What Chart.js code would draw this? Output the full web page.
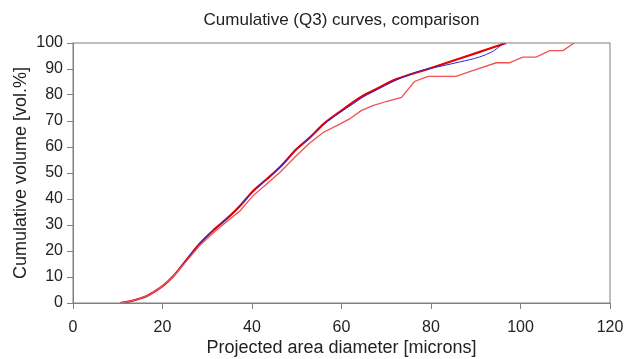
<!DOCTYPE html>
<html>
<head>
<meta charset="utf-8">
<title>Cumulative (Q3) curves, comparison</title>
<script src="https://cdn.jsdelivr.net/npm/chart.js@4.4.1/dist/chart.umd.min.js"></script>
<style>
  html, body { margin: 0; padding: 0; background: #fff; }
  #wrap { width: 637px; height: 359px; }
</style>
</head>
<body>
<div id="wrap"><canvas id="q3Chart" width="637" height="359"></canvas></div>
<script>
// diameters [microns] and cumulative volume [%] for each curve
const diamA = [10.5, 12.7, 14.5, 16.4, 18, 19.8, 22.4, 25.4, 28.3, 31.7, 35, 37.6, 40.2, 43.2, 46.5, 49.9, 52.9, 55.9, 59.6, 64.8, 67, 72.3, 79.7, 87.1, 92.3, 96.8];
const q3A = [0, 0.6, 1.5, 2.6, 4.2, 6.2, 10.3, 16.7, 22.8, 28.5, 33.4, 37.9, 43, 47.5, 52.7, 59.1, 63.6, 68.7, 73.5, 79.7, 81.6, 86.1, 90.2, 94.4, 97.4, 100];

const diamB = [10.5, 12.7, 14.5, 16.4, 18, 19.8, 22.4, 25.4, 28.3, 31.7, 35, 37.6, 40.2, 43.2, 46.5, 49.9, 52.9, 55.9, 59.6, 62.6, 64.8, 67, 72.3, 78.2, 82, 86.4, 90.8, 94, 96.3];
const q3B = [0, 0.6, 1.5, 2.6, 4.2, 6.2, 10.3, 16.7, 22.8, 28.5, 33.4, 37.9, 43, 47.5, 52.7, 59.1, 63.6, 68.5, 73.2, 76.6, 79.2, 81.2, 85.8, 89.6, 91, 92.7, 94.6, 97, 100];

const diamC = [10.5, 12.7, 14.5, 16.4, 18, 19.8, 22.4, 25.4, 28.3, 31.7, 35, 37.3, 40.2, 43.2, 46.2, 49.9, 52.9, 55.9, 59.6, 61.8, 64.4, 67, 70, 73.4, 76.3, 79.3, 85.6, 89.3, 94.6, 97.5, 100.5, 103.5, 106.5, 109.5, 112];
const q3C = [0, 0.6, 1.5, 2.6, 4.2, 6.2, 10.2, 16.2, 22.1, 27.5, 32.2, 35.4, 41.2, 45.7, 50.2, 56.6, 61.5, 65.6, 68.8, 70.8, 74, 75.9, 77.5, 79.1, 85.2, 87.2, 87.2, 89.4, 92.4, 92.4, 94.6, 94.6, 97.1, 97.1, 100];

const xTicks = [0, 20, 40, 60, 80, 100, 120];
const yTicks = [0, 10, 20, 30, 40, 50, 60, 70, 80, 90, 100];

function toPoints(xs, ys) {
    return xs.map((x, i) => ({ x: x, y: ys[i] }));
}

// box around the plot area (top and right edges too)
const frameBox = {
    id: 'frameBox',
    afterDatasetsDraw(chart) {
        const a = chart.chartArea;
        const ctx = chart.ctx;
        ctx.save();
        ctx.strokeStyle = '#808080';
        ctx.lineWidth = 1;
        ctx.strokeRect(a.left, a.top, a.right - a.left, a.bottom - a.top);
        ctx.restore();
    }
};

const txt = '#222';
const font = 'Liberation Sans, Arial, Helvetica, sans-serif';

new Chart(document.getElementById('q3Chart'), {
    type: 'line',
    data: {
        datasets: [{
            data: toPoints(diamC, q3C),
            borderColor: 'rgb(240,80,80)',
            borderWidth: 1.3,
            pointRadius: 0,
            tension: 0
        }, {
            data: toPoints(diamB, q3B),
            borderColor: 'rgb(40,40,215)',
            borderWidth: 1,
            pointRadius: 0,
            cubicInterpolationMode: 'monotone'
        }, {
            data: toPoints(diamA, q3A),
            borderColor: 'rgb(232,0,0)',
            borderWidth: 2.2,
            pointRadius: 0,
            cubicInterpolationMode: 'monotone'
        }]
    },
    options: {
        responsive: false,
        animation: false,
        layout: { padding: { left: 0, right: 27, top: 0, bottom: 0 } },
        plugins: {
            legend: { display: false },
            tooltip: { enabled: false },
            title: {
                display: true,
                text: 'Cumulative (Q3) curves, comparison',
                fullSize: false,
                color: txt,
                font: { family: font, size: 17, weight: 'normal' },
                padding: { top: 10, bottom: 12.6 }
            }
        },
        scales: {
            x: {
                type: 'linear',
                min: 0,
                max: 120,
                afterBuildTicks: scale => { scale.ticks = xTicks.map(v => ({ value: v })); },
                afterFit: scale => { scale.height = 56; },
                grid: { drawOnChartArea: false, drawTicks: true, tickLength: 6, color: '#808080' },
                border: { color: '#808080' },
                ticks: { color: txt, padding: 9, maxRotation: 0, font: { family: font, size: 16 } },
                title: {
                    display: true,
                    text: 'Projected area diameter [microns]',
                    color: txt,
                    font: { family: font, size: 18 },
                    padding: { top: 0, bottom: 0 }
                }
            },
            y: {
                type: 'linear',
                min: 0,
                max: 100,
                afterBuildTicks: scale => { scale.ticks = yTicks.map(v => ({ value: v })); },
                afterFit: scale => { scale.width = 73; },
                grid: { drawOnChartArea: false, drawTicks: true, tickLength: 6, color: '#808080' },
                border: { color: '#808080' },
                ticks: { color: txt, padding: 4, font: { family: font, size: 16 } },
                title: {
                    display: true,
                    text: 'Cumulative volume [vol.%]',
                    color: txt,
                    font: { family: font, size: 18 },
                    padding: { top: 10, bottom: 0 }
                }
            }
        }
    },
    plugins: [frameBox]
});
</script>
</body>
</html>
